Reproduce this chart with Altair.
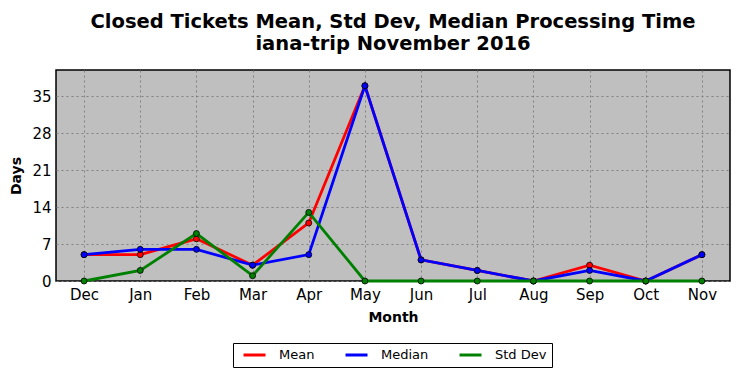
import altair as alt
import pandas as pd

months = ["Dec", "Jan", "Feb", "Mar", "Apr", "May", "Jun", "Jul", "Aug", "Sep", "Oct", "Nov"]
mean_vals = [5, 5, 8, 3, 11, 37, 4, 2, 0, 3, 0, 5]
median_vals = [5, 6, 6, 3, 5, 37, 4, 2, 0, 2, 0, 5]
std_vals = [0, 2, 9, 1, 13, 0, 0, 0, 0, 0, 0, 0]
series = ["Mean", "Median", "Std Dev"]
colors = ["#ff0000", "#0000ff", "#008000"]
y_ticks = [0, 7, 14, 21, 28, 35]

rows = []
for s, vals in zip(series, [mean_vals, median_vals, std_vals]):
    for i, (m, v) in enumerate(zip(months, vals)):
        rows.append({"Month": m, "Days": v, "Series": s, "order": series.index(s)})
df = pd.DataFrame(rows)

FONT = "DejaVu Sans"

x = alt.X("Month:N", sort=months, scale=alt.Scale(type="point", padding=0.5),
          axis=alt.Axis(title="Month", labelAngle=0, labelFontSize=15, labelFont=FONT,
                        titleFont=FONT, titleFontSize=14, titleFontWeight="bold",
                        labelColor="black", titleColor="black", titlePadding=8,
                        grid=True, gridColor="#808080", gridDash=[2, 3], gridWidth=1,
                        domain=False, ticks=False, labelPadding=6))
y = alt.Y("Days:Q", scale=alt.Scale(domain=[0, 40], nice=False),
          axis=alt.Axis(title="Days", values=y_ticks, labelFontSize=15, labelFont=FONT,
                        titleFont=FONT, titleFontSize=14, titleFontWeight="bold",
                        labelColor="black", titleColor="black", titlePadding=8,
                        grid=True, gridColor="#808080", gridDash=[2, 3], gridWidth=1,
                        domain=False, ticks=False, labelPadding=5))
color = alt.Color("Series:N", scale=alt.Scale(domain=series, range=colors),
                  legend=alt.Legend(title=None, orient="none", legendX=177, legendY=273,
                                    direction="horizontal", symbolType="M-0.27,0H3.73",
                                    symbolStrokeWidth=3, symbolSize=121,
                                    labelFont=FONT, labelFontSize=13, labelColor="black",
                                    strokeColor="black", fillColor="white",
                                    padding=5, columnPadding=24, labelOffset=27,
                                    cornerRadius=0))

base = alt.Chart(df).encode(x=x, y=y, color=color, order=alt.Order("order:Q"))

layers = []
for s in series:
    sub = base.transform_filter(alt.datum.Series == s)
    layers.append(sub.mark_line(strokeWidth=2.8))
    layers.append(sub.mark_point(filled=True, size=36, stroke="black", strokeWidth=0.8, opacity=1))

chart = alt.layer(*layers).properties(
    width=674, height=211,
    title=alt.TitleParams(text=["Closed Tickets Mean, Std Dev, Median Processing Time",
                                "iana-trip November 2016"],
                          font=FONT, fontSize=19.5, fontWeight="bold", color="black",
                          anchor="middle", offset=16, lineHeight=22),
    autosize=alt.AutoSizeParams(type="none"),
    padding={"left": 48, "top": 62, "right": 3, "bottom": 89},
).configure_view(fill="#bfbfbf", stroke="black", strokeWidth=1.5)

chart.save("out.html", embed_options={"renderer": "svg", "actions": False})
